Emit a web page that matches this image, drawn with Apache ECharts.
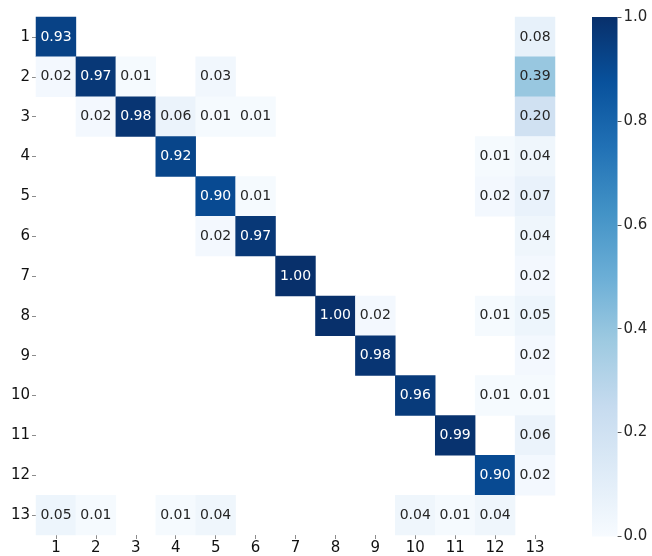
<!DOCTYPE html>
<html>
<head>
<meta charset="utf-8">
<style>
  html, body { margin: 0; padding: 0; background: #ffffff; }
  #chart { width: 652px; height: 556px; }
</style>
<script src="https://cdn.jsdelivr.net/npm/echarts@6/dist/echarts.min.js"></script>
</head>
<body>
<div id="chart"></div>
<script>
// Class labels along both axes
const xLabels = ['1', '2', '3', '4', '5', '6', '7', '8', '9', '10', '11', '12', '13'];
const yLabels = ['1', '2', '3', '4', '5', '6', '7', '8', '9', '10', '11', '12', '13'];

// One row per true class (top to bottom); null marks an empty cell
const row1  = [0.93, null, null, null, null, null, null, null, null, null, null, null, 0.08];
const row2  = [0.02, 0.97, 0.01, null, 0.03, null, null, null, null, null, null, null, 0.39];
const row3  = [null, 0.02, 0.98, 0.06, 0.01, 0.01, null, null, null, null, null, null, 0.20];
const row4  = [null, null, null, 0.92, null, null, null, null, null, null, null, 0.01, 0.04];
const row5  = [null, null, null, null, 0.90, 0.01, null, null, null, null, null, 0.02, 0.07];
const row6  = [null, null, null, null, 0.02, 0.97, null, null, null, null, null, null, 0.04];
const row7  = [null, null, null, null, null, null, 1.00, null, null, null, null, null, 0.02];
const row8  = [null, null, null, null, null, null, null, 1.00, 0.02, null, null, 0.01, 0.05];
const row9  = [null, null, null, null, null, null, null, null, 0.98, null, null, null, 0.02];
const row10 = [null, null, null, null, null, null, null, null, null, 0.96, null, 0.01, 0.01];
const row11 = [null, null, null, null, null, null, null, null, null, null, 0.99, null, 0.06];
const row12 = [null, null, null, null, null, null, null, null, null, null, null, 0.90, 0.02];
const row13 = [0.05, 0.01, null, 0.01, 0.04, null, null, null, null, 0.04, 0.01, 0.04, null];

// Colour bar range and tick values
const barRange = [0.0, 1.0];
const barTicks = [0.0, 0.2, 0.4, 0.6, 0.8, 1.0];

const rows = [row1, row2, row3, row4, row5, row6, row7, row8, row9, row10, row11, row12, row13];

// "Blues" sequential palette, low to high
const blues = ['#f7fbff', '#deebf7', '#c6dbef', '#9ecae1', '#6baed6',
               '#4292c6', '#2171b5', '#08519c', '#08306b'];

const cells = [];
rows.forEach((row, yi) => {
  row.forEach((v, xi) => {
    if (v === null) return;
    cells.push({
      value: [xi, yi, v],
      label: { color: v > 0.5 ? '#ffffff' : '#262626' }
    });
  });
});

const FONT = 'DejaVu Sans';
const GL = 36, GT = 17, GW = 519, GH = 519.5;
const CB_L = 592, CB_W = 25.5;

// Vertical gradient for the colour bar (top = high value)
const barStops = blues.map((c, i) => ({ offset: 1 - i / (blues.length - 1), color: c }));

const chart = echarts.init(document.getElementById('chart'), null, { renderer: 'canvas' });
chart.setOption({
  animation: false,
  backgroundColor: '#ffffff',
  textStyle: { fontFamily: FONT },
  grid: [
    { left: GL, top: GT, width: GW, height: GH },
    { left: CB_L, top: GT, width: CB_W, height: GH }
  ],
  xAxis: [
    {
      type: 'category', gridIndex: 0, data: xLabels, position: 'bottom',
      axisLine: { show: false, onZero: false },
      axisTick: { show: true, alignWithLabel: true, length: 4, lineStyle: { color: '#8c8c8c' } },
      axisLabel: { color: '#111111', fontSize: 15, fontFamily: FONT, margin: 6, interval: 0 },
      splitLine: { show: false }
    },
    { type: 'value', gridIndex: 1, show: false, min: 0, max: 1, axisLine: { onZero: false } }
  ],
  yAxis: [
    {
      type: 'category', gridIndex: 0, data: yLabels, inverse: true,
      axisLine: { show: false, onZero: false },
      axisTick: { show: true, alignWithLabel: true, length: 4, lineStyle: { color: '#8c8c8c' } },
      axisLabel: { color: '#111111', fontSize: 15, fontFamily: FONT, margin: 6, interval: 0 },
      splitLine: { show: false }
    },
    {
      type: 'value', gridIndex: 1, position: 'right', min: barRange[0], max: barRange[1], interval: 0.2,
      axisLine: { show: false, onZero: false },
      axisTick: { show: true, length: 4, lineStyle: { color: '#595959' } },
      axisLabel: {
        color: '#262626', fontSize: 15, fontFamily: FONT, margin: 6,
        formatter: v => barTicks.find(t => Math.abs(t - v) < 1e-9).toFixed(1)
      },
      splitLine: { show: false }
    }
  ],
  visualMap: {
    type: 'continuous',
    show: false,
    seriesIndex: 0,
    min: barRange[0], max: barRange[1],
    inRange: { color: blues }
  },
  series: [
    {
      type: 'heatmap',
      xAxisIndex: 0, yAxisIndex: 0,
      data: cells,
      label: {
        show: true,
        fontSize: 14,
        fontFamily: FONT,
        formatter: p => p.value[2].toFixed(2)
      },
      emphasis: { disabled: true }
    },
    {
      // colour bar: one rectangle spanning the full value range
      type: 'custom',
      xAxisIndex: 1, yAxisIndex: 1,
      silent: true,
      data: [[0, barRange[0], 1, barRange[1]]],
      renderItem: (params, api) => {
        const p0 = api.coord([api.value(0), api.value(3)]);
        const p1 = api.coord([api.value(2), api.value(1)]);
        return {
          type: 'rect',
          shape: { x: p0[0], y: p0[1], width: p1[0] - p0[0], height: p1[1] - p0[1] },
          style: { fill: new echarts.graphic.LinearGradient(0, 0, 0, 1, barStops) }
        };
      }
    }
  ]
});
</script>
</body>
</html>
